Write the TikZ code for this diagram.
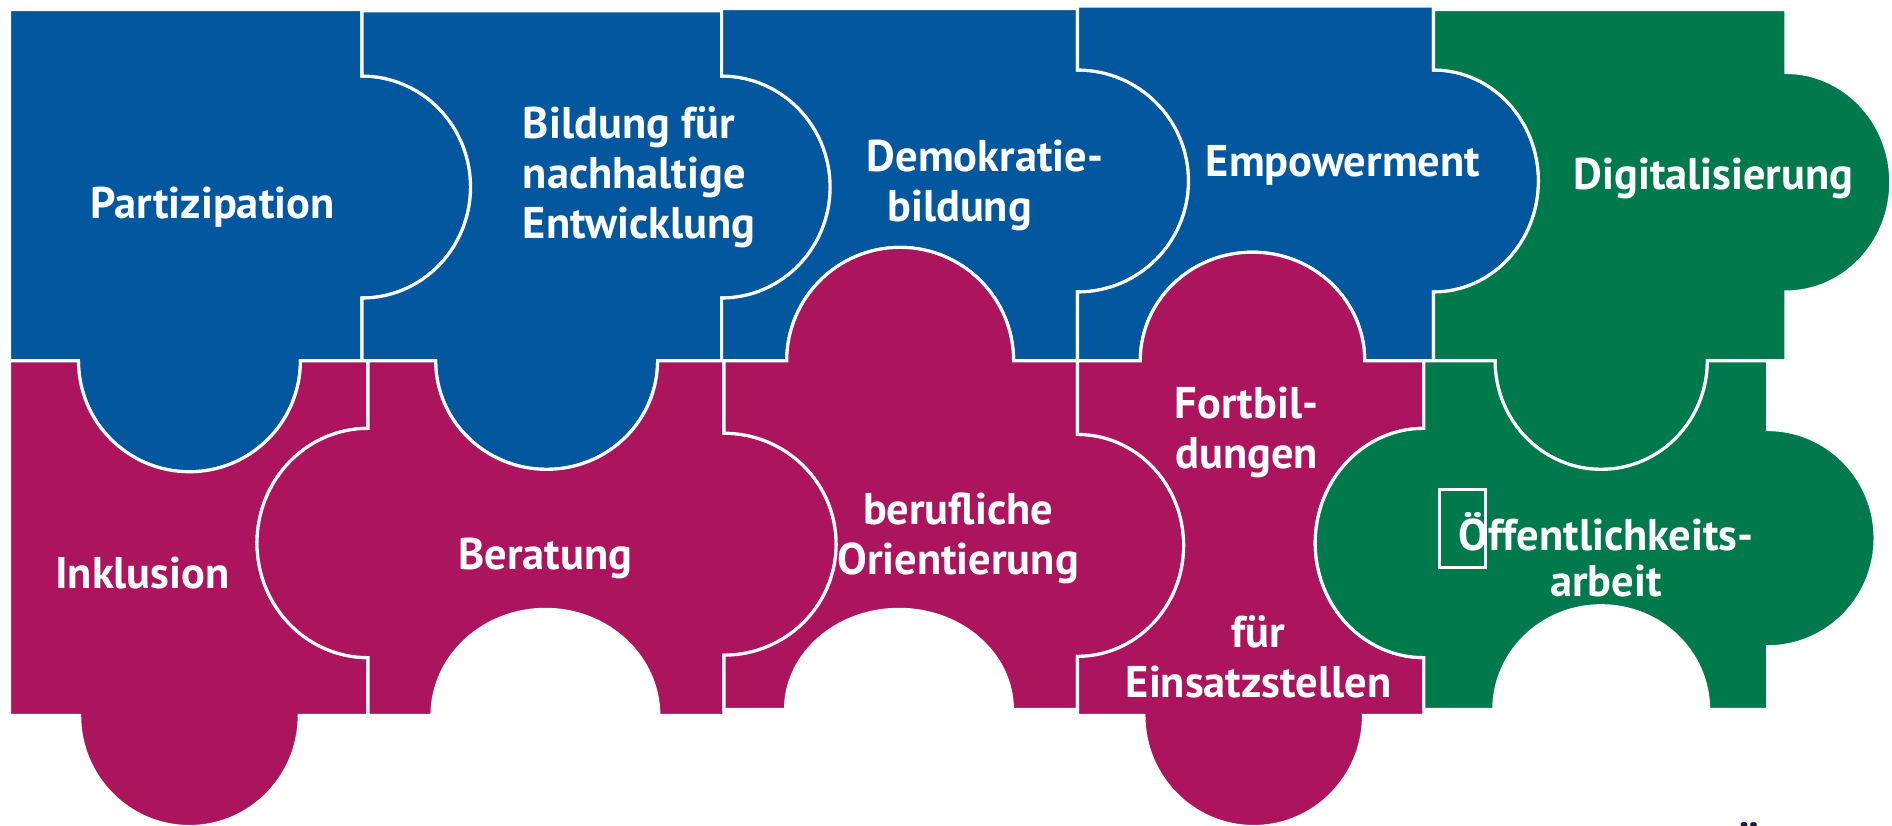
\documentclass[tikz,border=0pt]{standalone}
\usepackage{fontspec}
\setmainfont{PT Sans}
\definecolor{pblue}{RGB}{2,87,159}
\definecolor{pmag}{RGB}{172,21,94}
\definecolor{pgreen}{RGB}{0,122,77}
\definecolor{pnavy}{RGB}{20,32,72}
% knob / socket path pieces: #1 edge position, #2 centre, #3 half width, #4 signed bulge
\def\pzT#1#2#3#4{-- ({#2-#3},#1) .. controls ({#2-#3},{#1+0.5523*(#4)}) and ({#2-0.5523*#3},{#1+(#4)}) .. (#2,{#1+(#4)}) .. controls ({#2+0.5523*#3},{#1+(#4)}) and ({#2+#3},{#1+0.5523*(#4)}) .. ({#2+#3},#1)}
\def\pzB#1#2#3#4{-- ({#2+#3},#1) .. controls ({#2+#3},{#1+0.5523*(#4)}) and ({#2+0.5523*#3},{#1+(#4)}) .. (#2,{#1+(#4)}) .. controls ({#2-0.5523*#3},{#1+(#4)}) and ({#2-#3},{#1+0.5523*(#4)}) .. ({#2-#3},#1)}
\def\pzR#1#2#3#4{-- (#1,{#2-#3}) .. controls ({#1+0.5523*(#4)},{#2-#3}) and ({#1+(#4)},{#2-0.5523*#3}) .. ({#1+(#4)},#2) .. controls ({#1+(#4)},{#2+0.5523*#3}) and ({#1+0.5523*(#4)},{#2+#3}) .. (#1,{#2+#3})}
\def\pzL#1#2#3#4{-- (#1,{#2+#3}) .. controls ({#1+0.5523*(#4)},{#2+#3}) and ({#1+(#4)},{#2+0.5523*#3}) .. ({#1+(#4)},#2) .. controls ({#1+(#4)},{#2-0.5523*#3}) and ({#1+0.5523*(#4)},{#2-#3}) .. (#1,{#2-#3})}
\tikzset{
  piece/.style={draw=white, line width=1.3pt, line join=miter},
  lbl/.style={text=white, font=\bfseries\fontsize{18.4}{20.75}\selectfont, align=center, inner sep=0pt},
}
\begin{document}
\begin{tikzpicture}[x=0.5pt, y=-0.5pt]
\useasboundingbox (0,0) rectangle (1568,684.5);
% ---- top row (blue / green)
\filldraw[piece, fill=pblue] (8,8) -- (300,8) \pzR{300}{155}{92}{90} -- (300,299) \pzB{299}{157}{92}{92} -- (8,299) -- cycle;
\filldraw[piece, fill=pblue] (300,9) -- (598,9) \pzR{598}{155}{92}{90} -- (598,299) \pzB{299}{453}{92}{90} -- (300,299) \pzL{300}{155}{92}{90} -- cycle;
\filldraw[piece, fill=pblue] (598,7) -- (893,7) \pzR{893}{150}{92}{92} -- (893,299) \pzB{299}{746}{94}{-94} -- (598,299) \pzL{598}{155}{92}{90} -- cycle;
\filldraw[piece, fill=pblue] (893,5) -- (1188,5) \pzR{1188}{150}{92}{87} -- (1188,299) \pzB{299}{1038}{93}{-90} -- (893,299) \pzL{893}{150}{92}{92} -- cycle;
\filldraw[piece, fill=pgreen] (1188,8) -- (1480,8) \pzR{1480}{151}{91}{87} -- (1480,299) \pzB{299}{1327}{88}{90} -- (1188,299) \pzL{1188}{150}{92}{87} -- cycle;
% ---- bottom row (magenta / green)
\filldraw[piece, fill=pmag] (8,299) \pzT{299}{157}{92}{92} -- (305,299) \pzR{305}{450}{95}{-92} -- (305,593) \pzB{593}{157}{91}{92} -- (8,593) -- cycle;
\filldraw[piece, fill=pmag] (305,299) \pzT{299}{453}{92}{90} -- (600,299) \pzR{600}{451}{92}{93} -- (600,593) \pzB{593}{452}{94}{-88} -- (305,593) \pzL{305}{450}{95}{-92} -- cycle;
\filldraw[piece, fill=pmag] (600,299) \pzT{299}{746}{94}{-94} -- (893,299) \pzR{893}{452}{92}{88} -- (893,588) \pzB{588}{745}{94}{-83} -- (600,588) \pzL{600}{451}{92}{93} -- cycle;
\filldraw[piece, fill=pmag] (893,299) \pzT{299}{1038}{93}{-90} -- (1180,299) \pzR{1180}{450}{95}{-90} -- (1180,593) \pzB{593}{1039}{91}{92} -- (893,593) \pzL{893}{452}{92}{88} -- cycle;
\filldraw[piece, fill=pgreen] (1180,299) \pzT{299}{1327}{88}{90} -- (1465,299) \pzR{1465}{446}{90}{89} -- (1465,588) \pzB{588}{1327}{89}{-86} -- (1180,588) \pzL{1180}{450}{95}{-90} -- cycle;
% ---- labels
\node[lbl] (partizipation) at (176,172) {Partizipation};
\node[lbl, align=left, anchor=west] (bne) at (433,147) {Bildung für\\nachhaltige\\Entwicklung};
\node[lbl, align=left, anchor=west] (demokratie) at (718,154) {Demokratie-\\\hspace*{8.5pt}bildung};
\node[lbl] (empowerment) at (1113,137) {Empowerment};
\node[lbl] (digital) at (1420,148) {Digitalisierung};
\node[lbl] (inklusion) at (118,475) {Inklusion};
\node[lbl] (beratung) at (452,463) {Beratung};
\node[lbl] (beruf) at (794,446) {berufliche\\Orientierung};
\node[lbl] (fort) at (1033,358) {Fortbil-\\dungen};
\node[lbl] (einsatz) at (1043,544) {für\\Einsatzstellen};
\node[lbl] (oeff) at (1331,460) {Öffentlichkeits-\\[-1.75pt]arbeit};
\node[draw=white, line width=1.2pt, minimum width=19pt, minimum height=32pt, inner sep=0pt] (box) at (1212,438) {};
\node[font=\bfseries\fontsize{18.4}{20.75}\selectfont, text=pnavy, anchor=north, inner sep=0pt] (frag) at (1450,681) {Ö};
\end{tikzpicture}
\end{document}
